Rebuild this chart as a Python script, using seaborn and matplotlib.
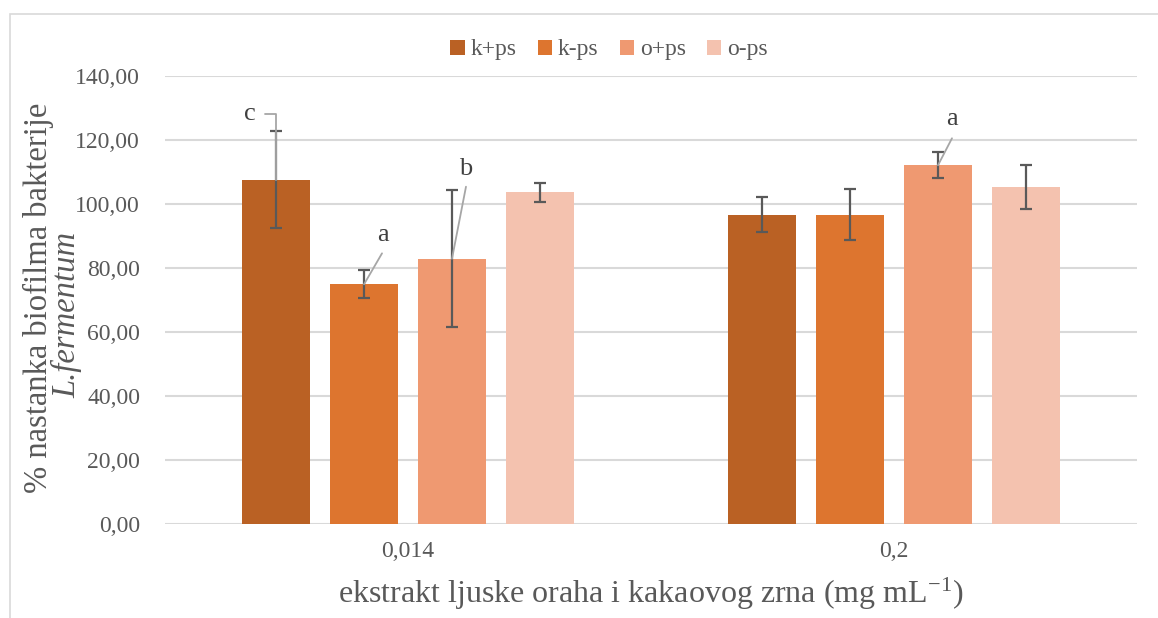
import numpy as np
import pandas as pd
import matplotlib
matplotlib.use("Agg")
import matplotlib.pyplot as plt
import seaborn as sns
from matplotlib.patches import Rectangle

# ---- data ----
concentrations = ["0,014", "0,2"]
groups = ["k+ps", "k-ps", "o+ps", "o-ps"]
means_k_plus = [107.6, 96.7]
means_k_minus = [74.9, 96.7]
means_o_plus = [82.9, 112.1]
means_o_minus = [103.6, 105.3]
err_k_plus = [15.2, 5.4]
err_k_minus = [4.4, 8.0]
err_o_plus = [21.4, 4.0]
err_o_minus = [2.9, 7.0]
yticks = [0, 20, 40, 60, 80, 100, 120, 140]
ytick_labels = ["0,00", "20,00", "40,00", "60,00", "80,00", "100,00", "120,00", "140,00"]
# letters: (group, concentration index, letter)
letters = [("k+ps", 0, "c"), ("k-ps", 0, "a"), ("o+ps", 0, "b"), ("o+ps", 1, "a")]

colors = ["#BA6124", "#DD752F", "#EF9971", "#F4C2AF"]
means = [means_k_plus, means_k_minus, means_o_plus, means_o_minus]
errs = [err_k_plus, err_k_minus, err_o_plus, err_o_minus]

rows = []
for g, m in zip(groups, means):
    for c, v in zip(concentrations, m):
        rows.append({"conc": c, "group": g, "value": v})
df = pd.DataFrame(rows)

sns.set_theme(style="white")
plt.rcParams["font.family"] = ["Liberation Serif", "DejaVu Serif"]
plt.rcParams["mathtext.fontset"] = "stix"

SERIF = "Liberation Serif"
W, H = 1158, 618
fig = plt.figure(figsize=(W / 100, H / 100), dpi=100)
ax = fig.add_axes([165 / W, 1 - 524 / H, (1137 - 165) / W, (524 - 76) / H])

sns.barplot(data=df, x="conc", y="value", hue="group", hue_order=groups,
            order=concentrations, palette=colors, width=0.724, gap=0.22,
            saturation=1, errorbar=None, linewidth=0, ax=ax)

txtc = "#595959"
# error bars
centers = {}
for g, cont, e in zip(groups, ax.containers, errs):
    xs = [b.get_x() + b.get_width() / 2 for b in cont]
    hs = [b.get_height() for b in cont]
    centers[g] = list(zip(xs, hs))
    ax.errorbar(xs, hs, yerr=e, fmt="none", ecolor=txtc, elinewidth=1.6,
                capsize=4.3, capthick=1.6, zorder=5)

# letter annotations with leader lines (offsets in data units)
lc = "#A6A6A6"
px = 1.0 / 486  # one pixel in x data units
py = 1.0 / 3.2  # one pixel in y data units
lfs = 19
for g, ci, let in letters:
    x0, h0 = centers[g][ci]
    if let == "c":
        yy = h0 + 66 * py
        ax.plot([x0 - 11 * px, x0, x0], [yy, yy, h0], color=lc, lw=1.3, zorder=6)
        ax.text(x0 - 26 * px, yy, let, ha="center", va="center", fontsize=lfs,
                color="#404040", family=SERIF)
    elif g == "k-ps":
        ax.plot([x0, x0 + 18 * px], [h0, h0 + 31 * py], color=lc, lw=1.3, zorder=6)
        ax.text(x0 + 19 * px, h0 + 49 * py, let, ha="center", va="center", fontsize=lfs,
                color="#404040", family=SERIF)
    elif g == "o+ps" and ci == 0:
        ax.plot([x0, x0 + 14 * px], [h0, h0 + 72 * py], color=lc, lw=1.3, zorder=6)
        ax.text(x0 + 14 * px, h0 + 90 * py, let, ha="center", va="center", fontsize=lfs,
                color="#404040", family=SERIF)
    else:
        ax.plot([x0, x0 + 14 * px], [h0, h0 + 27 * py], color=lc, lw=1.3, zorder=6)
        ax.text(x0 + 14 * px, h0 + 46 * py, let, ha="center", va="center", fontsize=lfs,
                color="#404040", family=SERIF)

ax.set_ylim(0, 140)
ax.set_xlim(-0.5, 1.5)
ax.set_yticks(yticks)
ax.set_yticklabels(ytick_labels, fontsize=17, color=txtc, family=SERIF)
for t in ax.get_xticklabels():
    t.set_family(SERIF)
ax.tick_params(axis="x", labelsize=17, labelcolor=txtc, length=0, pad=12)
ax.tick_params(axis="y", length=0, pad=18)
ax.yaxis.grid(True, color="#D9D9D9", lw=1.5)
ax.set_axisbelow(True)
for s in ax.spines.values():
    s.set_visible(False)
ax.set_xlabel("ekstrakt ljuske oraha i kakaovog zrna (mg mL$^{\\mathregular{-1}}$)",
              fontsize=23, color=txtc, labelpad=10, family=SERIF)
ax.set_ylabel("")

fig.text(38 / W, 1 - 298 / H, "% nastanka biofilma bakterije", rotation=90,
         ha="center", va="center", fontsize=23.5, color=txtc, family=SERIF)
fig.text(67 / W, 1 - 315 / H, "L.fermentum", rotation=90, style="italic",
         ha="center", va="center", fontsize=23.5, color=txtc, family=SERIF)

leg = ax.legend(loc="center", bbox_to_anchor=(609 / W, 1 - 50 / H),
                bbox_transform=fig.transFigure, ncol=4, frameon=False,
                prop={"family": SERIF, "size": 17}, handlelength=0.6, handleheight=0.6,
                handletextpad=0.25, columnspacing=0.9)
for t in leg.get_texts():
    t.set_color(txtc)

fig.patches.append(Rectangle((10 / W, -0.05), 1.1, 1 - 14 / H + 0.05,
                             transform=fig.transFigure, fill=False,
                             edgecolor="#D9D9D9", lw=1.2))

fig.savefig("out.png", dpi=100)
